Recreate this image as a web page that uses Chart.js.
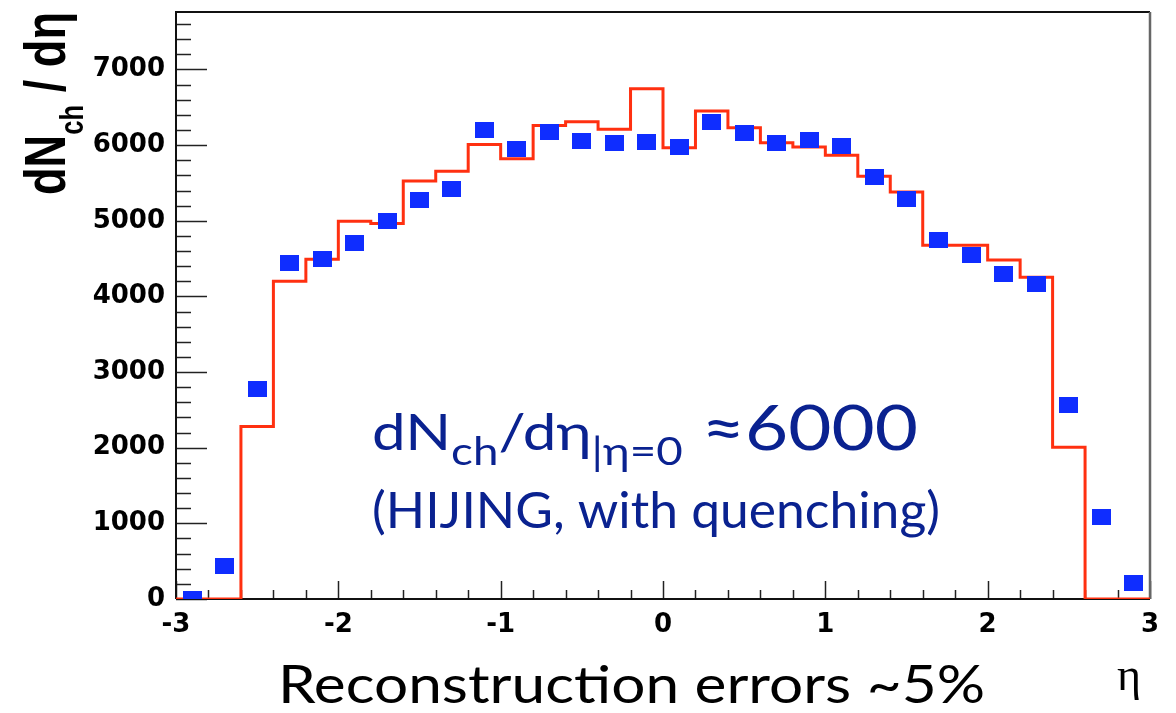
<!DOCTYPE html>
<html>
<head>
<meta charset="utf-8">
<script src="https://cdn.jsdelivr.net/npm/chart.js@4.4.1/dist/chart.umd.min.js"></script>
<style>
html,body{margin:0;padding:0;background:#fff;}
#wrap{width:1176px;height:713px;position:relative;}
</style>
</head>
<body>
<div id="wrap"><canvas id="c" width="1176" height="713"></canvas></div>
<script>
// histogram (HIJING), left bin edges, 0.2 wide
var binEdges = [-3,-2.8,-2.6,-2.4,-2.2,-2,-1.8,-1.6,-1.4,-1.2,-1,-0.8,-0.6,-0.4,-0.2,0,0.2,0.4,0.6,0.8,1,1.2,1.4,1.6,1.8,2,2.2,2.4,2.6,2.8,3];
var histValues = [0,0,2280,4200,4490,4995,4965,5525,5655,6010,5820,6260,6310,6210,6745,5965,6450,6230,6030,5975,5865,5590,5380,4675,4675,4480,4255,2005,0,0];
// reconstructed points at bin centres
var etaCenters = [-2.9,-2.7,-2.5,-2.3,-2.1,-1.9,-1.7,-1.5,-1.3,-1.1,-0.9,-0.7,-0.5,-0.3,-0.1,0.1,0.3,0.5,0.7,0.9,1.1,1.3,1.5,1.7,1.9,2.1,2.3,2.5,2.7,2.9];
var recoValues = [5,440,2775,4440,4500,4705,4995,5270,5415,6205,5955,6170,6060,6030,6040,5970,6310,6155,6025,6065,5995,5575,5285,4745,4545,4295,4170,2570,1080,215];
var xTicks = [-3,-2,-1,0,1,2,3];
var yTicks = [0,1000,2000,3000,4000,5000,6000,7000];

var navy = '#0a2290';

// blue square marker
var sq = document.createElement('canvas');
sq.width = 19; sq.height = 16;
var sctx = sq.getContext('2d');
sctx.fillStyle = '#0f2dff';
sctx.fillRect(0, 0, 19, 16);

var histData = binEdges.map(function(e, i){
	return {x: e, y: histValues[Math.min(i, histValues.length - 1)]};
});
var recoData = etaCenters.map(function(e, i){ return {x: e, y: recoValues[i]}; });

// draw a run of [text, font, dy] pieces, stretched to width w
function run(ctx, parts, x0, y0, w){
	var total = 0;
	parts.forEach(function(p){ ctx.font = p[1]; total += ctx.measureText(p[0]).width; });
	ctx.save();
	ctx.translate(x0, y0);
	ctx.scale(w ? w / total : 1, 1);
	var x = 0;
	parts.forEach(function(p){
		ctx.font = p[1];
		ctx.fillText(p[0], x, p[2] || 0);
		x += ctx.measureText(p[0]).width;
	});
	ctx.restore();
}

var framePlugin = {
	id: 'frame',
	beforeDatasetsDraw: function(chart){
		var ctx = chart.ctx, a = chart.chartArea;
		var xs = chart.scales.x, ys = chart.scales.y;
		ctx.save();
		ctx.strokeStyle = '#222';
		ctx.lineWidth = 1.5;
		// inward ticks on y
		for (var v = 0; v <= 7600; v += 200) {
			var py = Math.round(ys.getPixelForValue(v)) + 0.5;
			var len = (v % 1000 === 0) ? 31 : 15;
			ctx.beginPath(); ctx.moveTo(a.left, py); ctx.lineTo(a.left + len, py); ctx.stroke();
		}
		// inward ticks on x
		for (var k = -15; k <= 15; k++) {
			var px = Math.round(xs.getPixelForValue(k * 0.2)) + 0.5;
			var l2 = (k % 5 === 0) ? 18 : 9;
			ctx.beginPath(); ctx.moveTo(px, a.bottom); ctx.lineTo(px, a.bottom - l2); ctx.stroke();
		}
		// box
		ctx.lineWidth = 2;
		ctx.strokeStyle = '#111';
		ctx.beginPath();
		ctx.moveTo(a.left, a.bottom); ctx.lineTo(a.left, a.top); ctx.lineTo(a.right, a.top);
		ctx.moveTo(a.left, a.bottom); ctx.lineTo(a.right, a.bottom);
		ctx.stroke();
		ctx.strokeStyle = '#666';
		ctx.lineWidth = 2.5;
		ctx.beginPath(); ctx.moveTo(a.right, a.top); ctx.lineTo(a.right, a.bottom); ctx.stroke();
		ctx.restore();
	},
	afterDraw: function(chart){
		var ctx = chart.ctx;
		ctx.save();
		ctx.textBaseline = 'alphabetic';
		ctx.textAlign = 'left';

		// y title, rotated and widened
		ctx.save();
		ctx.translate(65, 195);
		ctx.rotate(-Math.PI / 2);
		ctx.scale(1, 1.25);
		ctx.fillStyle = '#000';
		run(ctx, [
			['dN', 'bold 46px "Liberation Sans"'],
			['ch', 'bold 26px "Liberation Sans"', 14],
			[' / d\u03b7', 'bold 46px "Liberation Sans"']
		], 0, 0, 183);
		ctx.restore();

		// annotation
		ctx.fillStyle = navy;
		run(ctx, [
			['dN', '50px Lato'],
			['ch', '38px Lato', 15],
			['/d\u03b7', '50px Lato'],
			['|\u03b7=0', '38px Lato', 15],
			[' \u22486000', '62px Lato']
		], 372, 450, 546);
		run(ctx, [['(HIJING, with quenching)', '50px Lato']], 372, 528, 568);

		// bottom text and axis label
		ctx.fillStyle = '#000';
		run(ctx, [['Reconstruction errors ~5%', '53px Lato']], 278, 703, 707);
		run(ctx, [['\u03b7', '46px "Liberation Serif"']], 1117, 690);
		ctx.restore();
	}
};

new Chart(document.getElementById('c'), {
	type: 'scatter',
	data: {
		datasets: [
			{
				label: 'reco',
				data: recoData,
				pointStyle: sq,
				pointRadius: 9,
				showLine: false
			},
			{
				label: 'hijing',
				data: histData,
				showLine: true,
				stepped: 'before',
				borderColor: '#ff3010',
				borderWidth: 3,
				borderJoinStyle: 'miter',
				pointRadius: 0,
				fill: false
			}
		]
	},
	options: {
		responsive: false,
		animation: false,
		layout: { padding: { top: 12, right: 26, left: 0, bottom: 0 } },
		plugins: { legend: { display: false }, tooltip: { enabled: false } },
		scales: {
			x: {
				type: 'linear',
				min: -3,
				max: 3,
				grid: { display: false, drawTicks: false },
				border: { display: false },
				afterBuildTicks: function(s){ s.ticks = xTicks.map(function(v){ return {value: v}; }); },
				afterFit: function(s){ s.height = 114; s.paddingLeft = 0; s.paddingRight = 0; },
				ticks: {
					padding: 11,
					color: '#000',
					font: { family: 'DejaVu Sans', weight: 'bold', size: 26 },
					callback: function(v){ return String(v); }
				}
			},
			y: {
				min: 0,
				max: 7760,
				grid: { display: false, drawTicks: false },
				border: { display: false },
				afterBuildTicks: function(s){ s.ticks = yTicks.map(function(v){ return {value: v}; }); },
				afterFit: function(s){ s.width = 176; s.paddingTop = 0; s.paddingBottom = 0; },
				ticks: {
					padding: 11,
					color: '#000',
					font: { family: 'DejaVu Sans', weight: 'bold', size: 26 },
					callback: function(v){ return String(v); }
				}
			}
		}
	},
	plugins: [framePlugin]
});
</script>
</body>
</html>
